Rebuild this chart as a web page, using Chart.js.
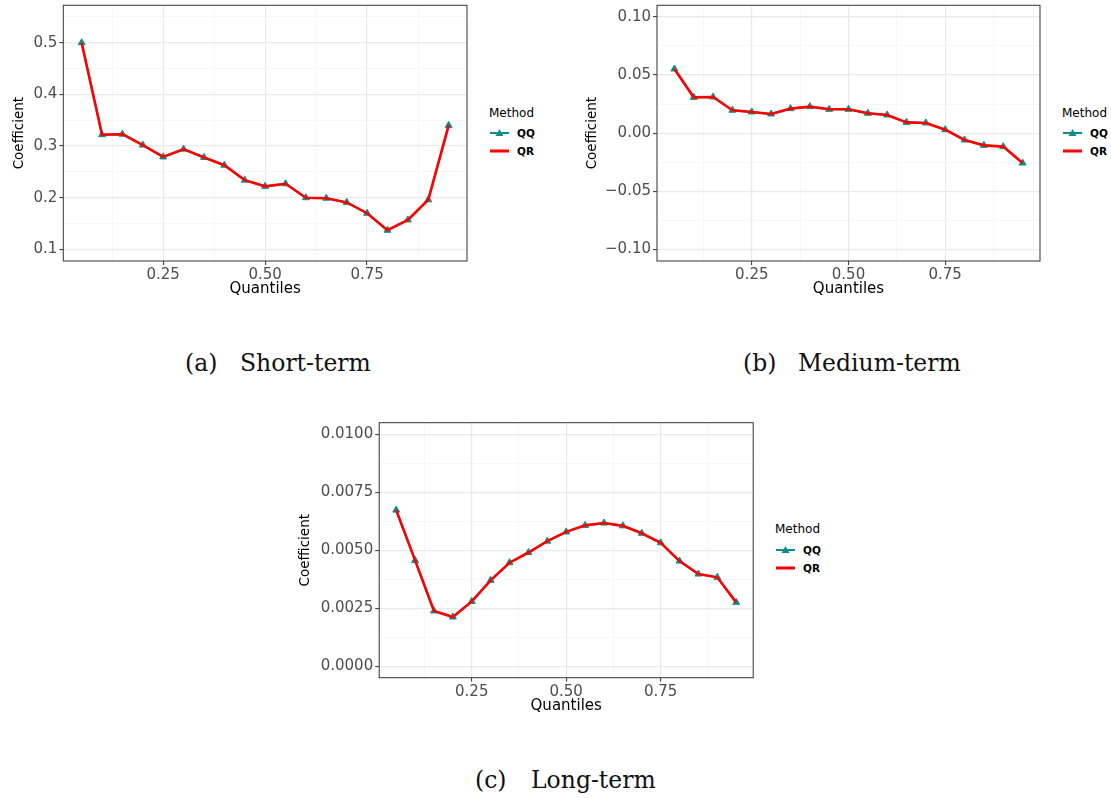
<!DOCTYPE html>
<html>
<head>
<meta charset="utf-8">
<script src="https://cdn.jsdelivr.net/npm/chart.js@4.4.1/dist/chart.umd.min.js"></script>
<style>
  html, body { margin: 0; padding: 0; background: #fff; }
  #page { position: relative; width: 1111px; height: 798px; overflow: hidden; background: #fff; }
  .panel { position: absolute; }
  .panel canvas { display: block; }
  .leg { position: absolute; font-family: "DejaVu Sans", sans-serif; color: #000; }
  .leg .title { position: absolute; left: 0; font-size: 12px; line-height: 14px; white-space: nowrap; }
  .leg .item { position: absolute; left: 0; height: 14px; white-space: nowrap; }
  .leg .item svg { position: absolute; left: 1px; top: 2px; }
  .leg .item span { position: absolute; left: 28px; top: 0; font-size: 10.5px; line-height: 14px; font-weight: bold; }
  .cap { position: absolute; font-family: "DejaVu Serif", serif; font-size: 23.5px; line-height: 24px; color: #111; white-space: nowrap; }
</style>
</head>
<body>
<div id="page">
  <div class="panel" style="left:0px;top:0px"><canvas id="c-short" width="475" height="300"></canvas></div>
  <div class="panel" style="left:570px;top:0px"><canvas id="c-medium" width="478" height="300"></canvas></div>
  <div class="panel" style="left:290px;top:417px"><canvas id="c-long" width="472" height="300"></canvas></div>

  <div class="leg" style="left:489px;top:106px">
    <div class="title" style="top:0px">Method</div>
    <div class="item" style="top:20px"><svg width="19" height="10"><line x1="0" y1="5" x2="19" y2="5" stroke="#0E8C8C" stroke-width="2"/><polygon points="9.5,1 13.5,8 5.5,8" fill="#0E8C8C"/></svg><span>QQ</span></div>
    <div class="item" style="top:38px"><svg width="19" height="10"><line x1="0" y1="5" x2="19" y2="5" stroke="#FF0000" stroke-width="3"/></svg><span>QR</span></div>
  </div>
  <div class="leg" style="left:1062px;top:106px">
    <div class="title" style="top:0px">Method</div>
    <div class="item" style="top:20px"><svg width="19" height="10"><line x1="0" y1="5" x2="19" y2="5" stroke="#0E8C8C" stroke-width="2"/><polygon points="9.5,1 13.5,8 5.5,8" fill="#0E8C8C"/></svg><span>QQ</span></div>
    <div class="item" style="top:38px"><svg width="19" height="10"><line x1="0" y1="5" x2="19" y2="5" stroke="#FF0000" stroke-width="3"/></svg><span>QR</span></div>
  </div>
  <div class="leg" style="left:775px;top:522px">
    <div class="title" style="top:0px">Method</div>
    <div class="item" style="top:21px"><svg width="19" height="10"><line x1="0" y1="5" x2="19" y2="5" stroke="#0E8C8C" stroke-width="2"/><polygon points="9.5,1 13.5,8 5.5,8" fill="#0E8C8C"/></svg><span>QQ</span></div>
    <div class="item" style="top:39px"><svg width="19" height="10"><line x1="0" y1="5" x2="19" y2="5" stroke="#FF0000" stroke-width="3"/></svg><span>QR</span></div>
  </div>

  <div class="cap" style="left:185px;top:351px">(a)</div>
  <div class="cap" style="left:240px;top:351px">Short-term</div>
  <div class="cap" style="left:743px;top:351px">(b)</div>
  <div class="cap" style="left:798px;top:351px">Medium-term</div>
  <div class="cap" style="left:475px;top:768px">(c)</div>
  <div class="cap" style="left:531px;top:768px">Long-term</div>
</div>

<script>
'use strict';

// quantile levels on the x axis
const quantiles = [0.05, 0.10, 0.15, 0.20, 0.25, 0.30, 0.35, 0.40, 0.45, 0.50,
                   0.55, 0.60, 0.65, 0.70, 0.75, 0.80, 0.85, 0.90, 0.95];

// (a) short-term
const shortQQ = [0.500, 0.322, 0.323, 0.302, 0.279, 0.294, 0.278, 0.263, 0.234, 0.222,
                 0.227, 0.200, 0.199, 0.191, 0.170, 0.137, 0.157, 0.196, 0.340];
const shortQR = [0.500, 0.322, 0.323, 0.302, 0.279, 0.294, 0.278, 0.263, 0.234, 0.222,
                 0.227, 0.200, 0.199, 0.191, 0.170, 0.137, 0.157, 0.196, 0.340];

// (b) medium-term
const mediumQQ = [0.0552, 0.0308, 0.0311, 0.0197, 0.0182, 0.0165, 0.0211, 0.0228, 0.0205, 0.0205,
                  0.0171, 0.0156, 0.0093, 0.0088, 0.0030, -0.0059, -0.0105, -0.0116, -0.0257];
const mediumQR = [0.0552, 0.0308, 0.0311, 0.0197, 0.0182, 0.0165, 0.0211, 0.0228, 0.0205, 0.0205,
                  0.0171, 0.0156, 0.0093, 0.0088, 0.0030, -0.0059, -0.0105, -0.0116, -0.0257];

// (c) long-term
const longQQ = [0.00673, 0.00456, 0.00238, 0.00212, 0.00279, 0.00370, 0.00446, 0.00490, 0.00539, 0.00579,
                0.00607, 0.00617, 0.00605, 0.00573, 0.00532, 0.00453, 0.00397, 0.00383, 0.00275];
const longQR = [0.00673, 0.00456, 0.00238, 0.00212, 0.00279, 0.00370, 0.00446, 0.00490, 0.00539, 0.00579,
                0.00607, 0.00617, 0.00605, 0.00573, 0.00532, 0.00453, 0.00397, 0.00383, 0.00275];

// axes: limits, major ticks (labelled) and minor grid lines
const xLimits = [0.005, 0.995];
const xMajor = [0.25, 0.50, 0.75];
const xMinor = [0.125, 0.375, 0.625, 0.875];
const xLabels = ['0.25', '0.50', '0.75'];

const shortLimits = [0.0775, 0.5725];
const shortMajor = [0.1, 0.2, 0.3, 0.4, 0.5];
const shortMinor = [0.15, 0.25, 0.35, 0.45, 0.55];
const shortLabels = ['0.1', '0.2', '0.3', '0.4', '0.5'];

const mediumLimits = [-0.11, 0.11];
const mediumMajor = [-0.10, -0.05, 0.00, 0.05, 0.10];
const mediumMinor = [-0.075, -0.025, 0.025, 0.075];
const mediumLabels = ['\u22120.10', '\u22120.05', '0.00', '0.05', '0.10'];

const longLimits = [-0.0005, 0.0105];
const longMajor = [0.0000, 0.0025, 0.0050, 0.0075, 0.0100];
const longMinor = [0.00125, 0.00375, 0.00625, 0.00875];
const longLabels = ['0.0000', '0.0025', '0.0050', '0.0075', '0.0100'];

const TEAL = '#0E8C8C';
const RED = '#FF0000';
const GRID_MAJOR = '#E9E9E9';
const GRID_MINOR = '#F3F3F3';

Chart.defaults.font.family = '"DejaVu Sans", sans-serif';

// draws the box round the plot area (like theme_bw)
const panelBorder = {
  id: 'panelBorder',
  afterDraw(chart) {
    const { ctx, chartArea: a } = chart;
    ctx.save();
    ctx.strokeStyle = '#333333';
    ctx.lineWidth = 1;
    ctx.strokeRect(a.left, a.top, a.right - a.left, a.bottom - a.top);
    ctx.restore();
  }
};

const near = (list, v) => list.findIndex(m => Math.abs(m - v) < 1e-9);

function axis(limits, major, minor, labels, box) {
  return {
    type: 'linear',
    min: limits[0], max: limits[1],
    afterBuildTicks(scale) {
      scale.ticks = major.concat(minor).sort((a, b) => a - b).map(v => ({ value: v }));
    },
    afterFit(scale) {
      if (box.width !== undefined) scale.width = box.width;
      if (box.height !== undefined) scale.height = box.height;
      scale.paddingTop = 0; scale.paddingBottom = 0;
      scale.paddingLeft = 0; scale.paddingRight = 0;
    },
    border: { display: false },
    grid: {
      drawTicks: true,
      tickLength: 4,
      color: ctx => near(major, ctx.tick.value) >= 0 ? GRID_MAJOR : GRID_MINOR,
      lineWidth: ctx => near(major, ctx.tick.value) >= 0 ? 1.2 : 0.7,
      tickColor: ctx => near(major, ctx.tick.value) >= 0 ? '#333333' : 'rgba(0,0,0,0)',
      tickWidth: 1
    },
    ticks: {
      autoSkip: false,
      maxRotation: 0,
      minRotation: 0,
      padding: box.tickPad,
      color: '#4D4D4D',
      font: { size: 15 },
      callback: v => { const i = near(major, v); return i >= 0 ? labels[i] : ''; }
    },
    title: {
      display: true,
      text: box.title,
      color: '#000',
      font: { size: box.titleSize },
      padding: box.titlePad
    }
  };
}

function drawPanel(id, qq, qr, yLimits, yMajor, yMinor, yLabels, frame) {
  const pts = vals => quantiles.map((q, i) => ({ x: q, y: vals[i] }));
  return new Chart(document.getElementById(id), {
    type: 'line',
    data: {
      datasets: [
        {
          label: 'QQ', data: pts(qq), order: 1,
          borderColor: TEAL, backgroundColor: TEAL, borderWidth: 2,
          pointStyle: 'triangle', pointRadius: 4, pointBorderWidth: 1,
          pointBackgroundColor: TEAL, pointBorderColor: TEAL, tension: 0
        },
        {
          label: 'QR', data: pts(qr), order: 0,
          borderColor: RED, backgroundColor: RED, borderWidth: 2.6,
          pointRadius: 0, tension: 0
        }
      ]
    },
    options: {
      responsive: false,
      animation: false,
      devicePixelRatio: 1,
      layout: { padding: frame.padding },
      plugins: { legend: { display: false }, tooltip: { enabled: false } },
      scales: {
        x: axis(xLimits, xMajor, xMinor, xLabels,
          { height: frame.xHeight, tickPad: 1, title: 'Quantiles', titleSize: 15, titlePad: { top: 0, bottom: 2 } }),
        y: axis(yLimits, yMajor, yMinor, yLabels,
          { width: frame.yWidth, tickPad: 2, title: 'Coefficient', titleSize: 13.5, titlePad: { top: frame.yTitlePad, bottom: 0 } })
      }
    },
    plugins: [panelBorder]
  });
}

drawPanel('c-short', shortQQ, shortQR, shortLimits, shortMajor, shortMinor, shortLabels,
  { padding: { top: 5.3, right: 8, left: 0, bottom: 0 }, yWidth: 63.3, xHeight: 39, yTitlePad: 11 });

drawPanel('c-medium', mediumQQ, mediumQR, mediumLimits, mediumMajor, mediumMinor, mediumLabels,
  { padding: { top: 5.3, right: 8, left: 0, bottom: 0 }, yWidth: 87, xHeight: 39, yTitlePad: 14.5 });

drawPanel('c-long', longQQ, longQR, longLimits, longMajor, longMinor, longLabels,
  { padding: { top: 5.7, right: 8.8, left: 0, bottom: 0 }, yWidth: 89.2, xHeight: 39.3, yTitlePad: 7.5 });
</script>
</body>
</html>
